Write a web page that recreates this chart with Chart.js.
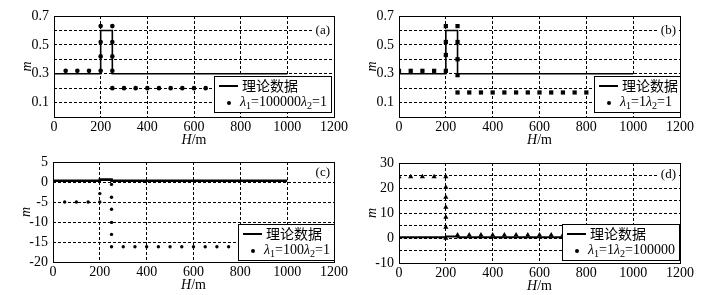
<!DOCTYPE html>
<html>
<head>
<script src="https://cdn.jsdelivr.net/npm/chart.js"></script>
<style>
    body { margin: 0; background: #fff; }
    #wrap { position: relative; width: 703px; height: 295px; }
    canvas { position: absolute; }
</style>
</head>
<body>
<div id="wrap">
    <canvas id="chartA" width="350" height="147" style="left:0px;top:0px"></canvas>
    <canvas id="chartB" width="353" height="147" style="left:350px;top:0px"></canvas>
    <canvas id="chartC" width="350" height="148" style="left:0px;top:147px"></canvas>
    <canvas id="chartD" width="353" height="148" style="left:350px;top:147px"></canvas>
</div>
<script>
    // theoretical model (same for all four panels)
    const theoryH = [0, 200, 200, 250, 250, 1000];
    const theoryM = [0.3, 0.3, 0.6, 0.6, 0.3, 0.3];
    const theoryLabel = "理论数据";

    // (a) lambda1=100000, lambda2=1
    const aH = [50, 100, 150, 200, 200, 200, 200, 250, 250, 250, 250, 250, 300, 350, 400, 450, 500, 550, 600, 650, 700, 750, 800, 850, 900, 950, 1000];
    const aM = [0.32, 0.32, 0.32, 0.32, 0.42, 0.52, 0.63, 0.63, 0.52, 0.42, 0.32, 0.2, 0.2, 0.2, 0.2, 0.2, 0.2, 0.2, 0.2, 0.2, 0.2, 0.2, 0.2, 0.2, 0.2, 0.2, 0.2];
    const aLabel = "λ_1=100000λ_2=1";

    // (b) lambda1=1, lambda2=1
    const bH = [0, 50, 100, 150, 200, 200, 200, 200, 250, 250, 250, 250, 250, 300, 350, 400, 450, 500, 550, 600, 650, 700, 750, 800, 850, 900, 950, 1000];
    const bM = [0.32, 0.32, 0.32, 0.32, 0.32, 0.43, 0.52, 0.63, 0.63, 0.52, 0.40, 0.29, 0.17, 0.17, 0.17, 0.17, 0.17, 0.17, 0.17, 0.17, 0.17, 0.17, 0.17, 0.17, 0.17, 0.17, 0.17, 0.17];
    const bLabel = "λ_1=1λ_2=1";

    // (c) lambda1=100, lambda2=1
    const cH = [50, 100, 150, 200, 200, 250, 250, 250, 250, 250, 250, 300, 350, 400, 450, 500, 550, 600, 650, 700, 750, 800, 850, 900, 950, 1000];
    const cM = [-5, -5, -5, -5, -2.9, -0.6, -3.8, -6.8, -10.1, -13.1, -16.2, -16.2, -16.2, -16.2, -16.2, -16.2, -16.2, -16.2, -16.2, -16.2, -16.2, -16.2, -16.2, -16.2, -16.2, -16.2];
    const cLabel = "λ_1=100λ_2=1";

    // (d) lambda1=1, lambda2=100000
    const dH = [0, 50, 100, 150, 200, 200, 200, 200, 200, 200, 200, 250, 300, 350, 400, 450, 500, 550, 600, 650, 700, 750, 800, 850, 900, 950, 1000];
    const dM = [24.5, 24.5, 24.5, 24.5, 24.5, 20.3, 16.3, 12.3, 8.3, 4.3, -0.1, 1.2, 1.2, 1.2, 1.2, 1.2, 1.2, 1.2, 1.2, 1.2, 1.2, 1.2, 1.2, 1.2, 1.2, 1.2, 1.2];
    const dLabel = "λ_1=1λ_2=100000";

    const xTicks = [0, 200, 400, 600, 800, 1000, 1200];
    const serif = '"Liberation Serif", "DejaVu Serif", serif';
    const cjk = '"Noto Sans CJK SC", sans-serif';
    const fontSize = 14;

    const toPoints = (xs, ys) => xs.map((x, i) => ({ x: x, y: ys[i] }));

    // draws text where "_" makes the next character a subscript and λ is italic
    function drawRich(ctx, str, x, y, size, measureOnly) {
        let cx = x;
        for (let i = 0; i < str.length; i++) {
            let ch = str[i];
            let sub = false;
            if (ch === "_") { sub = true; i++; ch = str[i]; }
            const italic = ch === "λ";
            const fs = sub ? size * 0.72 : size;
            ctx.font = (italic ? "italic " : "") + fs + "px " + serif;
            if (!measureOnly) ctx.fillText(ch, cx, sub ? y + size * 0.3 : y);
            cx += ctx.measureText(ch).width;
        }
        return cx - x;
    }

    const panelPlugin = {
        id: "panel",
        afterDraw(chart, args, o) {
            const ctx = chart.ctx;
            const a = chart.chartArea;
            ctx.save();
            ctx.fillStyle = "#000";
            ctx.textBaseline = "middle";

            // panel tag, with a small white patch behind it
            ctx.textAlign = "right";
            ctx.font = "13px " + serif;
            const tagW = ctx.measureText(o.tag).width;
            ctx.fillStyle = "#fff";
            ctx.fillRect(a.right - tagW - 6, a.top + o.tagDy - 7, tagW + 4, 14);
            ctx.fillStyle = "#000";
            ctx.fillText(o.tag, a.right - 4, a.top + o.tagDy);

            ctx.strokeStyle = "#000";
            ctx.lineWidth = 1;
            ctx.strokeRect(a.left + 0.5, a.top + 0.5, a.right - a.left, a.bottom - a.top);

            // y title
            ctx.save();
            ctx.translate(a.left - 27, (a.top + a.bottom) / 2);
            ctx.rotate(-Math.PI / 2);
            ctx.textAlign = "center";
            ctx.font = "italic " + fontSize + "px " + serif;
            ctx.fillText("m", 0, 0);
            ctx.restore();

            // x title H/m
            ctx.textAlign = "left";
            ctx.font = "italic " + fontSize + "px " + serif;
            const w1 = ctx.measureText("H").width;
            ctx.font = fontSize + "px " + serif;
            const w2 = ctx.measureText("/m").width;
            const cx = (a.left + a.right) / 2 - (w1 + w2) / 2;
            const ty = a.bottom + 23;
            ctx.font = "italic " + fontSize + "px " + serif;
            ctx.fillText("H", cx, ty);
            ctx.font = fontSize + "px " + serif;
            ctx.fillText("/m", cx + w1, ty);

            // legend box
            const tw = drawRich(ctx, o.label, 0, 0, 14, true);
            const lw = Math.max(tw + 30, 86);
            const lh = 36;
            const lx = a.right - lw - o.legendDx;
            const ly = a.bottom - lh - o.legendDy;
            ctx.fillStyle = "#fff";
            ctx.fillRect(lx, ly, lw, lh);
            ctx.strokeStyle = "#000";
            ctx.strokeRect(lx + 0.5, ly + 0.5, lw, lh);
            ctx.fillStyle = "#000";
            ctx.lineWidth = 2;
            ctx.beginPath();
            ctx.moveTo(lx + 5, ly + 10);
            ctx.lineTo(lx + 24, ly + 10);
            ctx.stroke();
            ctx.font = "14px " + cjk;
            ctx.fillText(theoryLabel, lx + 28, ly + 10);
            ctx.beginPath();
            ctx.arc(lx + 15, ly + 27, 2, 0, Math.PI * 2);
            ctx.fill();
            drawRich(ctx, o.label, lx + 26, ly + 26, 14, false);
            ctx.restore();
        }
    };

    function makePanel(id, p) {
        const canvas = document.getElementById(id);
        const isLabel = (v) => p.yLabels.some(l => Math.abs(l - v) < 1e-9);
        return new Chart(canvas, {
            type: "scatter",
            data: {
                datasets: [
                    {
                        data: toPoints(theoryH, theoryM),
                        showLine: true,
                        borderColor: "#000",
                        borderWidth: p.lineWidth,
                        pointRadius: 0,
                        order: 2,
                    },
                    {
                        data: toPoints(p.h, p.m),
                        showLine: false,
                        pointStyle: p.pointStyle,
                        pointRadius: p.pointRadius,
                        backgroundColor: "#000",
                        borderColor: "#000",
                        borderWidth: 0,
                        order: 1,
                    },
                ],
            },
            options: {
                responsive: false,
                animation: false,
                events: [],
                layout: {
                    padding: { top: p.area.top, right: canvas.width - p.area.right, left: 0, bottom: 0 },
                },
                plugins: {
                    legend: { display: false },
                    tooltip: { enabled: false },
                    panel: { tag: p.tag, tagDy: p.tagDy, label: p.label, legendDx: p.legendDx, legendDy: p.legendDy },
                },
                scales: {
                    x: {
                        type: "linear",
                        min: 0,
                        max: 1200,
                        afterBuildTicks: (s) => { s.ticks = xTicks.map(v => ({ value: v })); },
                        afterFit: (s) => { s.height = canvas.height - p.area.bottom; },
                        ticks: {
                            color: "#000",
                            font: { family: serif, size: fontSize },
                            padding: 2,
                            maxRotation: 0,
                            autoSkip: false,
                            callback: (v) => String(v),
                        },
                        grid: { color: "#000", drawTicks: false, lineWidth: 1 },
                        border: { display: false, dash: [3, 2] },
                    },
                    y: {
                        min: p.yMin,
                        max: p.yMax,
                        afterBuildTicks: (s) => { s.ticks = p.yGrid.map(v => ({ value: v })); },
                        afterFit: (s) => { s.width = p.area.left; },
                        ticks: {
                            color: "#000",
                            font: { family: serif, size: fontSize },
                            padding: 5,
                            autoSkip: false,
                            callback: (v) => isLabel(v) ? v.toFixed(p.digits) : "",
                        },
                        grid: { color: "#000", drawTicks: false, lineWidth: 1 },
                        border: { display: false, dash: [3, 2] },
                    },
                },
            },
            plugins: [panelPlugin],
        });
    }

    makePanel("chartA", {
        h: aH, m: aM, label: aLabel, tag: "(a)", tagDy: 15,
        area: { left: 54, right: 334, top: 16, bottom: 117 },
        yMin: 0, yMax: 0.7, digits: 1,
        yGrid: [0, 0.1, 0.2, 0.3, 0.4, 0.5, 0.6, 0.7],
        yLabels: [0.1, 0.3, 0.5, 0.7],
        pointStyle: "circle", pointRadius: 2.3, lineWidth: 1.6,
        legendDx: 3, legendDy: 5,
    });
    makePanel("chartB", {
        h: bH, m: bM, label: bLabel, tag: "(b)", tagDy: 15,
        area: { left: 49, right: 330, top: 16, bottom: 117 },
        yMin: 0, yMax: 0.7, digits: 1,
        yGrid: [0, 0.1, 0.2, 0.3, 0.4, 0.5, 0.6, 0.7],
        yLabels: [0.1, 0.3, 0.5, 0.7],
        pointStyle: "rect", pointRadius: 3, lineWidth: 1.6,
        legendDx: 0, legendDy: 5,
    });
    makePanel("chartC", {
        h: cH, m: cM, label: cLabel, tag: "(c)", tagDy: 11,
        area: { left: 53, right: 334, top: 15, bottom: 115 },
        yMin: -20, yMax: 5, digits: 0,
        yGrid: [-20, -15, -10, -5, 0, 5],
        yLabels: [-20, -15, -10, -5, 0, 5],
        pointStyle: "circle", pointRadius: 1.7, lineWidth: 2.6,
        legendDx: 0, legendDy: 2,
    });
    makePanel("chartD", {
        h: dH, m: dM, label: dLabel, tag: "(d)", tagDy: 12,
        area: { left: 49, right: 330, top: 16, bottom: 116 },
        yMin: -10, yMax: 30, digits: 0,
        yGrid: [-10, -5, 0, 5, 10, 15, 20, 25, 30],
        yLabels: [-10, 0, 10, 20, 30],
        pointStyle: "triangle", pointRadius: 3, lineWidth: 1.8,
        legendDx: 1, legendDy: 3,
    });
</script>
</body>
</html>
